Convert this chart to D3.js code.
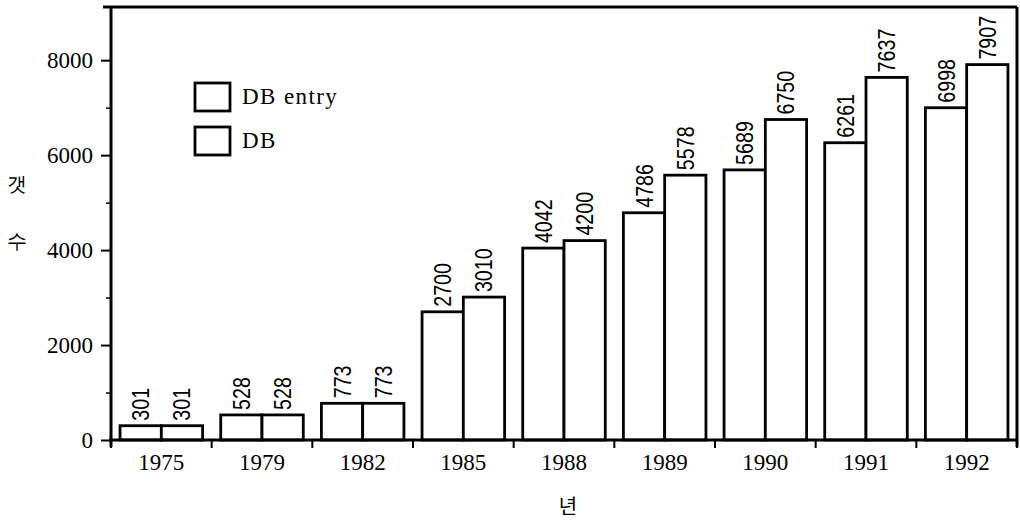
<!DOCTYPE html>
<html>
<head>
<meta charset="utf-8">
<script src="https://cdn.jsdelivr.net/npm/d3@7"></script>
<style>
  body { margin: 0; background: #fff; }
  svg text { font-family: "Liberation Serif", "DejaVu Serif", serif; fill: #000; }
</style>
</head>
<body>
<svg id="chart" width="1020" height="520"></svg>
<script>
const years = ["1975", "1979", "1982", "1985", "1988", "1989", "1990", "1991", "1992"];
const seriesNames = ["DB entry", "DB"];
const dbEntry = [301, 528, 773, 2700, 4042, 4786, 5689, 6261, 6998];
const db = [301, 528, 773, 3010, 4200, 5578, 6750, 7637, 7907];
const majorTicks = [0, 2000, 4000, 6000, 8000];
const minorTicks = [1000, 3000, 5000, 7000];

const svg = d3.select("#chart");
const plotLeft = 111, plotRight = 1017, plotTop = 7, plotBottom = 440;

const x0 = d3.scaleBand().domain(years).range([plotLeft, plotRight])
  .paddingInner(0.18).paddingOuter(0.09);
const x1 = d3.scaleBand().domain(seriesNames).range([0, x0.bandwidth()]);
const y = d3.scaleLinear().domain([0, 9120]).range([plotBottom, plotTop]);

const rows = years.map((yr, i) => ({ year: yr, values: [dbEntry[i], db[i]] }));

// bars
const groups = svg.selectAll(".grp")
  .data(rows)
  .enter()
  .append("g")
  .attr("class", "grp")
  .attr("transform", (d) => `translate(${x0(d.year)},0)`);

groups.selectAll("rect")
  .data((d) => d.values.map((v, k) => ({ name: seriesNames[k], v })))
  .enter()
  .append("rect")
  .attr("x", (d) => x1(d.name))
  .attr("width", x1.bandwidth())
  .attr("y", (d) => y(d.v))
  .attr("height", (d) => plotBottom - y(d.v))
  .attr("fill", "#fff")
  .attr("stroke", "#000")
  .attr("stroke-width", 2.8);

// value labels, rotated
groups.selectAll(".val")
  .data((d) => d.values.map((v, k) => ({ name: seriesNames[k], v })))
  .enter()
  .append("text")
  .attr("class", "val")
  .attr("transform", (d) =>
    `translate(${x1(d.name) + x1.bandwidth() / 2 + 8.5},${y(d.v) - 5}) rotate(-90) scale(0.82,1)`)
  .attr("text-anchor", "start")
  .style("font-family", "'Liberation Sans', Arimo, sans-serif")
  .style("font-size", "24px")
  .text((d) => d.v);

// y axis
const yAxis = svg.append("g")
  .attr("transform", `translate(${plotLeft},0)`)
  .call(d3.axisLeft(y).tickValues(majorTicks).tickSize(10).tickPadding(8).tickFormat(d3.format("d")));
yAxis.select(".domain").remove();
yAxis.selectAll("line").attr("stroke-width", 2);
yAxis.selectAll("text").style("font-size", "23px");

const yMinor = svg.append("g")
  .attr("transform", `translate(${plotLeft},0)`)
  .call(d3.axisLeft(y).tickValues(minorTicks).tickSize(5).tickFormat(""));
yMinor.select(".domain").remove();
yMinor.selectAll("line").attr("stroke-width", 1.5);

// x axis labels
const xAxis = svg.append("g")
  .attr("transform", `translate(0,${plotBottom})`)
  .call(d3.axisBottom(x0).tickSize(0).tickPadding(14));
xAxis.select(".domain").remove();
xAxis.selectAll("text").style("font-size", "23px");

// group boundary ticks
const half = x0.step() * x0.paddingInner() / 2;
const bounds = years.map((yr) => x0(yr) - half)
  .concat([x0(years[years.length - 1]) + x0.bandwidth() + half]);
svg.selectAll(".bt")
  .data(bounds)
  .enter()
  .append("line")
  .attr("x1", (d) => d).attr("x2", (d) => d)
  .attr("y1", plotBottom).attr("y2", plotBottom + 8)
  .attr("stroke", "#000").attr("stroke-width", 2);

// frame
const frame = svg.append("g").attr("fill", "none").attr("stroke", "#000").attr("stroke-width", 3);
frame.append("line").attr("x1", plotLeft).attr("x2", plotLeft).attr("y1", plotTop).attr("y2", plotBottom + 7);
frame.append("line").attr("x1", plotLeft - 8).attr("x2", plotRight).attr("y1", plotTop).attr("y2", plotTop);
frame.append("line").attr("x1", plotRight).attr("x2", plotRight).attr("y1", plotTop).attr("y2", plotBottom + 7);
frame.append("line").attr("x1", plotLeft - 2).attr("x2", plotRight).attr("y1", plotBottom).attr("y2", plotBottom);

// legend
const legend = svg.append("g").attr("transform", "translate(195,83)");
seriesNames.forEach((name, i) => {
  const row = legend.append("g").attr("transform", `translate(0,${i * 44})`);
  row.append("rect")
    .attr("width", 35).attr("height", 28)
    .attr("fill", "#fff").attr("stroke", "#000").attr("stroke-width", 2.8);
  row.append("text")
    .attr("x", 47).attr("y", 21)
    .style("font-size", "23px")
    .style("letter-spacing", "1.4px")
    .text(name);
});

// axis titles
const yTitle = svg.append("g").style("font-family", "'Noto Sans CJK KR', sans-serif").style("font-size", "20px");
yTitle.append("text").attr("x", 17).attr("y", 191).attr("text-anchor", "middle").text("갯");
yTitle.append("text").attr("x", 17).attr("y", 248).attr("text-anchor", "middle").text("수");

svg.append("text")
  .attr("x", 568).attr("y", 514)
  .attr("text-anchor", "middle")
  .style("font-family", "'Noto Sans CJK KR', sans-serif")
  .style("font-size", "20px")
  .text("년");
</script>
</body>
</html>
